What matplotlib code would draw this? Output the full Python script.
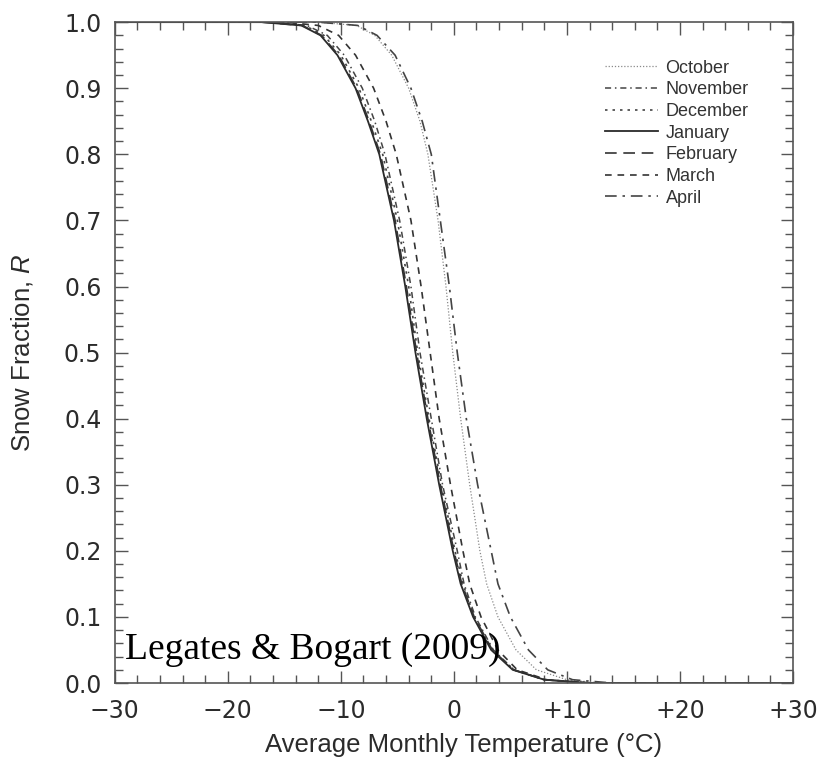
import matplotlib
matplotlib.use("Agg")
import matplotlib.pyplot as plt
import numpy as np
from matplotlib.ticker import MultipleLocator

# snow fraction levels at which each curve was read
frac = [1.0, 1.0, 0.995, 0.98, 0.95, 0.9, 0.85, 0.8, 0.7, 0.6, 0.5, 0.4, 0.3, 0.2, 0.15, 0.1, 0.05, 0.02, 0.005, 0.0, 0.0]

# temperature (C) of each month's curve at those levels
t_oct = [-30, -12, -8.6, -7.0, -5.5, -4.0, -3.0, -2.3, -1.4, -0.7, -0.1, 0.6, 1.4, 2.3, 2.9, 3.9, 5.5, 7.3, 10.0, 13, 30]
t_nov = [-30, -16, -13.0, -11.2, -9.7, -8.1, -7.0, -6.1, -4.8, -3.8, -3.0, -2.0, -1.0, 0.3, 0.9, 1.9, 3.5, 5.3, 8.0, 12, 30]
t_dec = [-30, -16, -13.2, -11.5, -10.0, -8.4, -7.3, -6.3, -5.0, -4.0, -3.2, -2.2, -1.1, 0.1, 0.8, 1.8, 3.4, 5.3, 8.0, 12, 30]
t_jan = [-30, -17, -13.5, -11.8, -10.3, -8.7, -7.6, -6.6, -5.3, -4.3, -3.4, -2.4, -1.3, -0.1, 0.6, 1.7, 3.3, 5.2, 8.0, 12, 30]
t_feb = [-30, -17, -13.4, -11.7, -10.2, -8.6, -7.5, -6.5, -5.2, -4.2, -3.3, -2.3, -1.2, 0.0, 0.7, 1.8, 3.4, 5.3, 8.0, 12, 30]
t_mar = [-30, -15, -12.0, -10.2, -8.7, -7.1, -6.0, -5.1, -3.8, -2.9, -2.1, -1.3, -0.3, 0.8, 1.4, 2.4, 3.9, 5.6, 8.2, 12, 30]
t_apr = [-30, -12, -8.5, -6.8, -5.2, -3.8, -2.8, -2.0, -1.2, -0.4, 0.3, 1.1, 2.1, 3.3, 3.9, 5.0, 6.6, 8.3, 10.5, 14, 30]

months = ["October", "November", "December", "January", "February", "March", "April"]
temps = [t_oct, t_nov, t_dec, t_jan, t_feb, t_mar, t_apr]

xticks = [-30, -20, -10, 0, 10, 20, 30]
xticklabels = ["\u221230", "\u221220", "\u221210", "0", "+10", "+20", "+30"]
yticks = [0.0, 0.1, 0.2, 0.3, 0.4, 0.5, 0.6, 0.7, 0.8, 0.9, 1.0]

styles = [
    dict(ls=(0, (1, 1.5)), color="#8a8a8a", lw=0.9),
    dict(ls=(0, (4, 2.5, 1, 2.5)), color="#444444", lw=1.1),
    dict(ls=(0, (1.5, 3)), color="#444444", lw=1.2),
    dict(ls="-", color="#2a2a2a", lw=1.3),
    dict(ls=(0, (7, 4)), color="#333333", lw=1.2),
    dict(ls=(0, (4, 3.5)), color="#333333", lw=1.2),
    dict(ls=(0, (7, 3.5, 1.5, 3.5)), color="#444444", lw=1.2),
]

sans = ["Liberation Sans", "DejaVu Sans"]
plt.rcParams["mathtext.fontset"] = "custom"
plt.rcParams["mathtext.it"] = "Liberation Sans:italic"

fig = plt.figure(figsize=(8.26, 7.64), dpi=100)
ax = fig.add_axes([0.139, 0.106, 0.821, 0.865])

for m, t, st in zip(months, temps, styles):
    ax.plot(t, frac, label=m, **st)

ax.set_xlim(-30, 30)
ax.set_ylim(0, 1)
ax.set_xticks(xticks)
ax.set_xticklabels(xticklabels)
ax.set_yticks(yticks)
ax.set_yticklabels(["%.1f" % v for v in yticks])
ax.xaxis.set_minor_locator(MultipleLocator(2))
ax.yaxis.set_minor_locator(MultipleLocator(0.02))
ax.tick_params(which="both", direction="in", top=True, right=True, color="#555555", width=1.0)
ax.tick_params(which="major", length=9, labelsize=17, labelcolor="#2b2b2b")
ax.tick_params(which="minor", length=5.5)
ax.tick_params(axis="x", pad=11.5)
ax.tick_params(axis="y", pad=9.5)
for s in ax.spines.values():
    s.set_color("#555555")
    s.set_linewidth(1.2)

ax.set_xlabel("Average Monthly Temperature (\u00b0C)", family=sans, fontsize=18.5, color="#2b2b2b", labelpad=9)
ax.xaxis.set_label_coords(0.515, -0.075, transform=ax.transAxes)
ax.xaxis.label.set_va("top")
ax.set_ylabel("Snow Fraction, $\\mathit{R}$", family=sans, fontsize=18.5, color="#2b2b2b")
ax.yaxis.set_label_coords(-0.118, 0.5)

leg = ax.legend(loc="upper left", bbox_to_anchor=(0.699, 0.968), frameon=False,
                handlelength=2.95, handletextpad=0.4, labelspacing=0.26,
                borderpad=0.4, prop={"family": sans, "size": 13})
for txt in leg.get_texts():
    txt.set_color("#333333")

ax.text(0.015, 0.037, "Legates & Bogart (2009)", transform=ax.transAxes,
        family=["Liberation Serif", "DejaVu Serif"], fontsize=27, color="black")

fig.savefig("out.png", dpi=100)
